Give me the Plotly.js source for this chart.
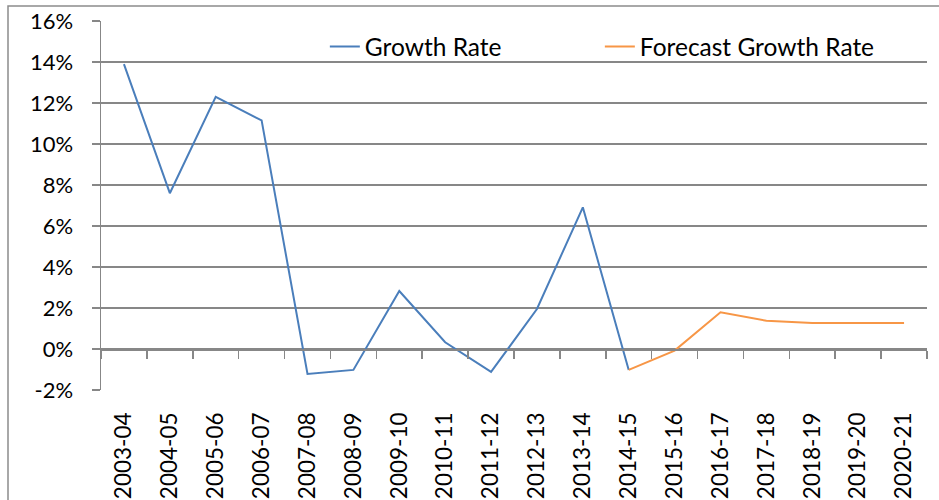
<!DOCTYPE html>
<html>
<head>
<meta charset="utf-8">
<script src="https://cdn.plot.ly/plotly-3.0.1.min.js"></script>
<style>html,body{margin:0;padding:0;background:#fff;}#chart{width:939px;height:500px;}</style>
</head>
<body>
<div id="chart"></div>
<script>
const years = ["2003-04","2004-05","2005-06","2006-07","2007-08","2008-09","2009-10","2010-11","2011-12","2012-13","2013-14","2014-15","2015-16","2016-17","2017-18","2018-19","2019-20","2020-21"];
const growthYears = years.slice(0, 12);
const growthRate = [0.139, 0.076, 0.123, 0.1115, -0.0122, -0.0102, 0.0283, 0.0033, -0.0112, 0.0195, 0.0691, -0.0102];
const forecastYears = years.slice(11);
const forecastRate = [-0.0102, -0.0008, 0.0179, 0.0138, 0.0127, 0.0127, 0.0127];
const yTicks = [-0.02, 0, 0.02, 0.04, 0.06, 0.08, 0.10, 0.12, 0.14, 0.16];
const yTickText = ["-2%", "0%", "2%", "4%", "6%", "8%", "10%", "12%", "14%", "16%"];

const font = "Lato, 'Open Sans', sans-serif";
const grey = "#878787";

const traces = [
  {x: growthYears, y: growthRate, type: "scatter", mode: "lines", name: "Growth Rate",
   xaxis: "x", yaxis: "y", line: {color: "#4a7ebb", width: 2}},
  {x: forecastYears, y: forecastRate, type: "scatter", mode: "lines", name: "Forecast Growth Rate",
   xaxis: "x2", yaxis: "y", line: {color: "#f79646", width: 2}}
];

const layout = {
  width: 939, height: 500,
  margin: {l: 101, r: 12, t: 21, b: 110},
  paper_bgcolor: "#fff", plot_bgcolor: "#fff",
  font: {family: font, size: 22, color: "#000"},
  showlegend: true,
  legend: {orientation: "h", x: 0.271, y: 0.931, xanchor: "left", yanchor: "middle",
           bgcolor: "rgba(0,0,0,0)", font: {family: font, size: 24.5, color: "#000"},
           entrywidth: 230, entrywidthmode: "pixels"},
  xaxis: {type: "category", categoryorder: "array", categoryarray: years,
          range: [-0.5, years.length - 0.5], tickangle: -90,
          showgrid: false, zeroline: false, showline: false, ticks: "",
          ticklabelstandoff: 17, tickfont: {family: font, size: 22.5, color: "#000"}},
  xaxis2: {type: "category", categoryorder: "array", categoryarray: years,
           overlaying: "x", anchor: "free", position: 2 / 18,
           range: [-0.5, years.length - 0.5], tickson: "boundaries",
           ticks: "outside", ticklen: 8, tickwidth: 1.5, tickcolor: grey,
           showticklabels: false, showline: true, linecolor: grey, linewidth: 1.5,
           showgrid: false, zeroline: false},
  yaxis: {range: [-0.02, 0.16], tickmode: "array", tickvals: yTicks, ticktext: yTickText,
          showgrid: true, gridcolor: grey, gridwidth: 1.2, zeroline: false,
          showline: true, linecolor: grey, linewidth: 1.5,
          ticks: "outside", ticklen: 8, tickcolor: grey, tickwidth: 1.2,
          ticklabelstandoff: 14, tickfont: {family: font, size: 22, color: "#000"}},
  shapes: [
    {type: "rect", xref: "paper", yref: "paper",
     x0: (8 - 101) / 826, x1: (950 - 101) / 826, y0: -0.32, y1: (390 - 6) / 369,
     line: {color: "#8c8c8c", width: 1.5}, fillcolor: "rgba(0,0,0,0)", layer: "below"}
  ]
};

Plotly.newPlot("chart", traces, layout, {displayModeBar: false, staticPlot: true});
</script>
</body>
</html>
